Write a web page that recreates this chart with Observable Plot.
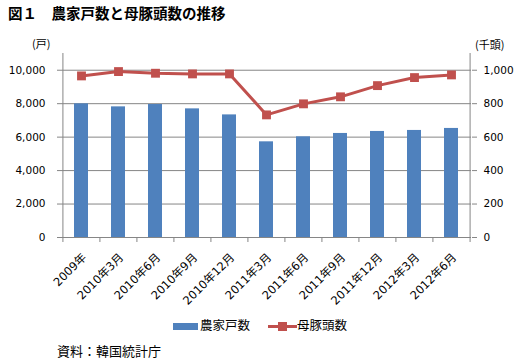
<!DOCTYPE html>
<html>
<head>
<meta charset="utf-8">
<script src="https://cdn.jsdelivr.net/npm/d3@7"></script>
<script src="https://cdn.jsdelivr.net/npm/@observablehq/plot@0.6"></script>
<style>
  body { margin: 0; background: #fff; }
  #wrap { position: relative; width: 520px; height: 362px; overflow: hidden; background: #fff; }
  #wrap svg { position: absolute; left: 0; top: 0; }
  .t { position: absolute; line-height: 1; white-space: nowrap; font-family: "Noto Sans CJK JP", sans-serif; color: #000; }
  .sw { position: absolute; }
</style>
</head>
<body>
<div id="wrap"></div>
<script>
const categories = ["2009年","2010年3月","2010年6月","2010年9月","2010年12月","2011年3月","2011年6月","2011年9月","2011年12月","2012年3月","2012年6月"];
const farmHouseholds = [7990, 7810, 7950, 7690, 7330, 5720, 6020, 6220, 6340, 6400, 6520]; // 戸
const sowHead = [966, 992, 982, 978, 978, 733, 799, 841, 908, 956, 972]; // 千頭
const leftTicks = [0, 2000, 4000, 6000, 8000, 10000];
const rightTicks = [0, 200, 400, 600, 800, 1000];
const seriesNames = ["農家戸数", "母豚頭数"];

const W = 520, H = 362, mL = 62, mR = 49, mT = 53, mB = 125;
const step = (W - mL - mR) / categories.length;
const ratio = 10; // right axis (千頭) -> left axis (戸)

const data = categories.map((c, i) => ({c, farms: farmHouseholds[i], sows: sowHead[i]}));
const grid = "#868686";

const chart = Plot.plot({
  width: W, height: H,
  marginLeft: mL, marginRight: mR, marginTop: mT, marginBottom: mB,
  style: {fontFamily: "'DejaVu Sans', 'Noto Sans CJK JP', sans-serif", fontSize: "10.5px", color: "#000", background: "transparent"},
  x: {type: "band", domain: categories, paddingInner: 0.62, paddingOuter: 0.31, align: 0.5},
  y: {domain: [0, 11000]},
  marks: [
    Plot.ruleY(leftTicks, {stroke: grid, strokeWidth: 1}),
    Plot.barY(data, {x: "c", y: "farms", fill: "#4F81BD"}),
    Plot.ruleX(categories, {x: d => d, y1: 0, y2: 0, dx: -step / 2, insetBottom: -5, stroke: grid}),
    Plot.ruleX([categories[categories.length - 1]], {x: d => d, y1: 0, y2: 0, dx: step / 2, insetBottom: -5, stroke: grid}),
    Plot.ruleX([categories[0]], {x: d => d, y1: 0, y2: 11000, dx: -step / 2, stroke: grid}),
    Plot.ruleX([categories[categories.length - 1]], {x: d => d, y1: 0, y2: 11000, dx: step / 2, stroke: grid}),
    Plot.axisY(leftTicks, {anchor: "left", tickSize: 5, tickPadding: 12, tickFormat: d3.format(","), stroke: grid, fill: "#000", label: null}),
    Plot.axisY(rightTicks.map(d => d * ratio), {anchor: "right", tickSize: 5, tickPadding: 7, tickFormat: d => d3.format(",")(d / ratio), stroke: grid, fill: "#000", label: null}),
    Plot.axisX({tickRotate: -45, tickSize: 0, tickPadding: 18, dx: 3, fontSize: 11.5, fill: "#000", label: null}),
    Plot.lineY(data, {x: "c", y: d => d.sows * ratio, stroke: "#C0504D", strokeWidth: 3}),
    Plot.dot(data, {x: "c", y: d => d.sows * ratio, symbol: "square", r: 5, fill: "#C0504D", stroke: "none"})
  ]
});

const wrap = document.getElementById("wrap");
wrap.appendChild(chart);

function addText(txt, x, cy, size, extra = {}) {
  const d = document.createElement("div");
  d.className = "t";
  d.textContent = txt;
  d.style.left = x + "px";
  d.style.fontSize = size + "px";
  d.style.top = (cy - size * 0.55) + "px";
  Object.assign(d.style, extra);
  wrap.appendChild(d);
  return d;
}
function addBox(x, y, w, h, color) {
  const d = document.createElement("div");
  d.className = "sw";
  Object.assign(d.style, {left: x + "px", top: y + "px", width: w + "px", height: h + "px", background: color});
  wrap.appendChild(d);
}

addText("図１　農家戸数と母豚頭数の推移", 8, 14, 14.5, {fontWeight: "bold"});
addText("(戸)", 32, 44, 11);
addText("(千頭)", 475, 45, 11);

// legend
addBox(173, 323, 25, 7, "#4F81BD");
addText(seriesNames[0], 200, 326, 12.5);
addBox(268, 325, 29, 3, "#C0504D");
addBox(278, 322, 9, 9, "#C0504D");
addText(seriesNames[1], 297, 326, 12.5);

addText("資料：韓国統計庁", 57, 351, 13);
</script>
</body>
</html>
